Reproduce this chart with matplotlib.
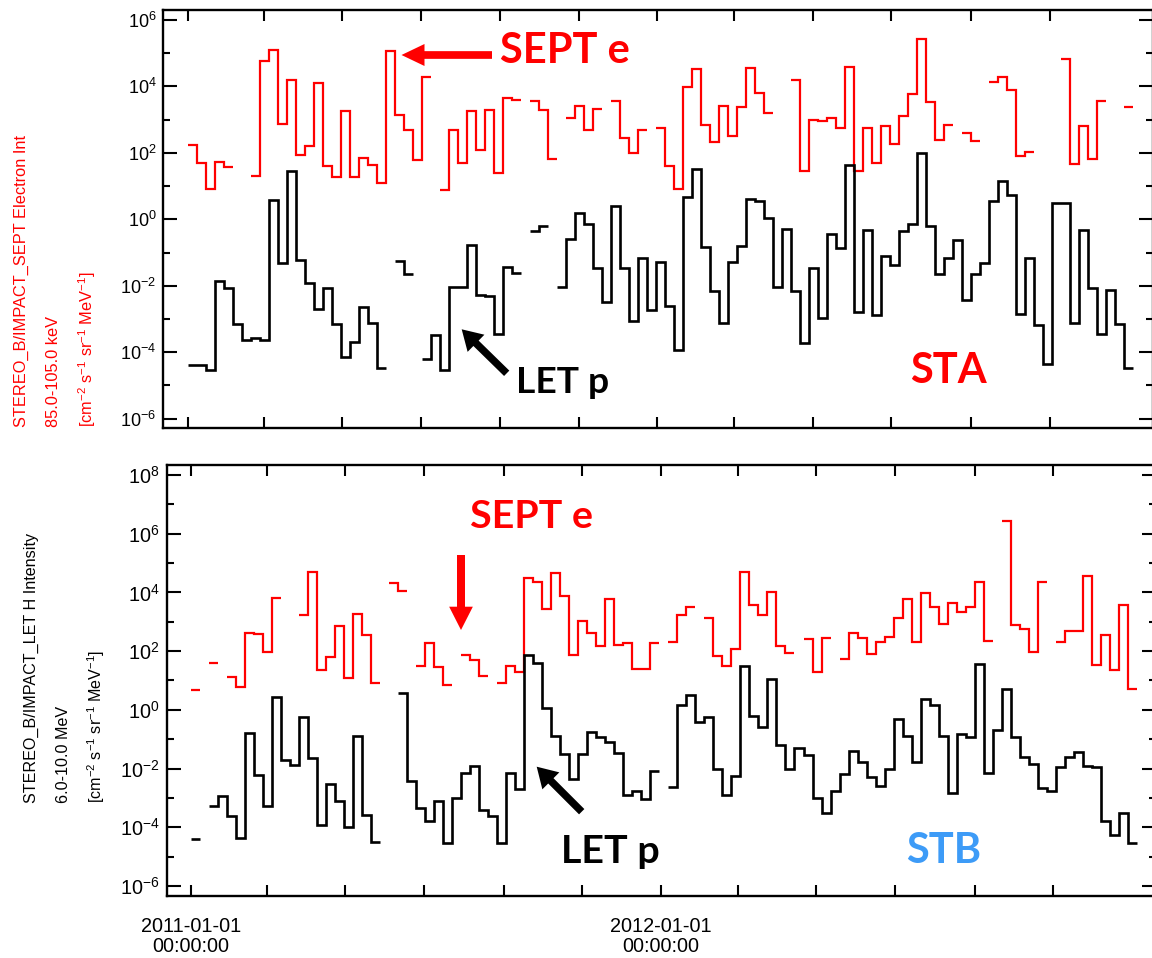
import numpy as np
import matplotlib
matplotlib.use('Agg')
import matplotlib.pyplot as plt
import matplotlib.dates as mdates
from matplotlib.ticker import NullFormatter
from matplotlib.patches import FancyArrowPatch, ArrowStyle

plt.rcParams['font.family'] = ['Liberation Sans', 'DejaVu Sans']
plt.rcParams['mathtext.fontset'] = 'custom'
plt.rcParams['mathtext.rm'] = 'Liberation Sans'
plt.rcParams['mathtext.it'] = 'Liberation Sans:italic'
plt.rcParams['mathtext.bf'] = 'Liberation Sans:bold'

# Weekly averages from 2011-01-01, stored as log10(intensity); nan = no data
start_date = '2011-01-01'
bin_days = 7

nan = np.nan
sta_sept_e = [
    2.23, 1.70, 0.92, 1.73, 1.59, nan, nan, 1.29, 4.76, 5.11,
    2.88, 4.19, 1.95, 2.20, 4.09, 1.62, 1.27, 3.25, 1.27, 1.84,
    1.63, 1.09, 5.07, 3.15, 2.68, 1.79, 4.27, nan, 0.89, 2.70,
    1.70, 3.25, 2.10, 3.30, 1.39, 3.64, 3.59, nan, 3.57, 3.28,
    1.81, nan, 3.05, 3.40, 2.70, 3.33, nan, 3.57, 2.45, 2.00,
    2.68, nan, 2.75, 1.62, 0.92, 3.97, 4.52, 2.85, 2.33, 3.40,
    2.51, 3.38, 4.54, 3.81, 3.20, nan, nan, 4.19, 1.47, 3.00,
    2.96, 3.06, 2.76, 4.57, 1.47, 2.76, 1.69, 2.81, 2.28, 3.11,
    3.77, 5.43, 3.52, 2.38, 2.85, nan, 2.61, 2.35, nan, 4.14,
    4.27, 3.89, 1.91, 2.03, nan, nan, nan, 4.82, 1.67, 2.80,
    1.82, 3.57, nan, nan, 3.38,
]
sta_let_p = [
    -4.38, -4.38, -4.54, -1.87, -2.07, -3.15, -3.62, -3.58, -3.62, 0.59,
    -1.32, 1.45, -1.21, -1.93, -2.70, -2.07, -3.15, -4.13, -3.70, -2.65,
    -3.13, -4.46, nan, -1.24, -1.63, nan, -4.19, -3.49, -4.54, -2.03,
    -2.03, -0.76, -2.27, -2.30, -3.46, -1.42, -1.60, nan, -0.34, -0.19,
    nan, -2.05, -0.60, 0.18, -0.14, -1.45, -2.48, 0.40, -1.47, -3.07,
    -1.16, -2.72, -1.27, -2.60, -3.94, 0.67, 1.52, -0.82, -2.15, -3.13,
    -1.27, -0.79, 0.60, 0.55, 0.04, -2.05, -0.29, -2.16, -3.73, -1.47,
    -2.97, -0.44, -0.86, 1.63, -2.80, -0.31, -2.87, -1.09, -1.36, -0.36,
    -0.14, 2.00, -0.19, -1.65, -1.16, -0.61, -2.42, -1.63, -1.31, 0.55,
    1.14, 0.72, -2.86, -1.16, -3.18, -4.36, 0.50, 0.50, -3.13, -0.32,
    -2.07, -3.44, -2.12, -3.15, -4.46,
]
stb_sept_e = [
    0.68, nan, 1.59, nan, 1.13, 0.77, 2.61, 2.57, 1.98, 3.80,
    nan, nan, 3.23, 4.71, 1.36, 1.81, 2.87, 1.08, 3.27, 2.55,
    0.91, nan, 4.31, 4.06, nan, 1.50, 2.27, 1.47, 0.83, nan,
    1.87, 1.70, 1.16, nan, 0.91, 1.50, 1.30, 4.48, 4.37, 3.43,
    4.67, 3.88, 1.87, 3.01, 2.61, 2.18, 3.78, 2.21, 2.29, 1.38,
    1.38, 2.29, nan, 2.32, 3.23, 3.52, nan, 3.12, 1.84, 1.50,
    2.06, 4.71, 3.57, 3.23, 4.03, 2.18, 1.93, nan, 2.40, 1.30,
    2.44, nan, 1.72, 2.61, 2.44, 1.90, 2.30, 2.47, 3.12, 3.77,
    2.32, 3.99, 3.52, 2.93, 3.63, 3.35, 3.49, 4.35, 2.35, nan,
    6.44, 2.89, 2.76, 1.98, 4.37, nan, 2.30, 2.67, 2.70, 4.56,
    1.53, 2.55, 1.36, 3.57, 0.70,
]
stb_let_p = [
    -4.41, nan, -3.27, -2.93, -3.61, -4.37, -0.80, -2.22, -3.27, 0.45,
    -1.70, -1.88, -0.25, -1.65, -3.92, -2.52, -3.09, -3.98, -0.89, -3.58,
    -4.49, nan, nan, 0.57, -2.44, -3.35, -3.78, -3.12, -4.52, -2.99,
    -2.14, -1.91, -3.41, -3.60, -4.52, -2.16, -2.70, 1.87, 1.59, 0.08,
    -0.89, -1.50, -2.35, -1.50, -0.77, -0.93, -1.08, -1.46, -2.90, -2.78,
    -3.04, -2.07, nan, -2.64, 0.17, 0.49, -0.40, -0.23, -2.02, -2.90,
    -2.25, 1.50, -0.20, -0.59, 1.05, -1.19, -2.02, -1.31, -1.53, -2.99,
    -3.50, -2.78, -2.18, -1.40, -1.76, -2.27, -2.58, -2.02, -0.32, -0.89,
    -1.78, 0.36, 0.17, -0.89, -2.82, -0.83, -0.93, 1.55, -2.16, -0.68,
    0.71, -0.93, -1.61, -1.84, -2.67, -2.75, -1.93, -1.61, -1.42, -1.91,
    -1.93, -3.80, -4.26, -3.50, -4.54,
]

tick_dates = ['2011-01-01', '2011-03-01', '2011-05-01', '2011-07-01', '2011-09-01', '2011-11-01',
              '2012-01-01', '2012-03-01', '2012-05-01', '2012-07-01', '2012-09-01', '2012-11-01']
labelled_dates = ['2011-01-01', '2012-01-01']

top_ylabel = ['STEREO_B/IMPACT_SEPT Electron Int', '85.0-105.0 keV',
              '[cm$^{-2}$ s$^{-1}$ sr$^{-1}$ MeV$^{-1}$]']
bottom_ylabel = ['STEREO_B/IMPACT_LET H Intensity', '6.0-10.0 MeV',
                 '[cm$^{-2}$ s$^{-1}$ sr$^{-1}$ MeV$^{-1}$]']

W, H = 1152, 958
RED = '#ff0000'
BLUE = '#3d9bf7'


def fig_xy(px, py):
    """ pixel position measured from the top-left corner -> figure fraction """
    return px / W, 1 - py / H


t0 = mdates.date2num(np.datetime64(start_date))
n_bins = len(sta_sept_e)
edges = t0 + bin_days * np.arange(n_bins + 1)
tick_pos = [mdates.date2num(np.datetime64(d)) for d in tick_dates]
tick_lab = [d + '\n00:00:00' if d in labelled_dates else '' for d in tick_dates]

fig = plt.figure(figsize=(W / 100, H / 100), dpi=100)
ax_a = fig.add_axes([163.3 / W, 1 - 427.7 / H, 989.7 / W, 417.7 / H])
ax_b = fig.add_axes([166.7 / W, 1 - 896.0 / H, 989.7 / W, 431.0 / H])


def style_axis(ax, ymin_exp, ymax_exp, top_exp, label_size):
    ax.set_yscale('log')
    ax.set_xlim(t0 - 18.97, t0 + 750.3)
    ax.set_ylim(10.0 ** ymin_exp, 10.0 ** ymax_exp)
    ax.set_yticks([10.0 ** k for k in range(-6, top_exp + 1, 2)])
    ax.set_yticks([10.0 ** k for k in range(-5, top_exp, 2)], minor=True)
    ax.yaxis.set_minor_formatter(NullFormatter())
    ax.set_xticks(tick_pos)
    ax.tick_params(which='both', direction='in', top=True, right=True, width=1.5)
    ax.tick_params(which='major', length=10, labelsize=label_size, pad=5)
    ax.tick_params(which='minor', length=5)
    ax.tick_params(axis='x', which='major', length=8)
    for s in ax.spines.values():
        s.set_linewidth(1.7)


style_axis(ax_a, -6.27, 6.30, 6, 13)
style_axis(ax_b, -6.34, 8.34, 8, 14.3)
ax_a.set_xticklabels([''] * len(tick_pos))
ax_b.set_xticklabels(tick_lab, fontsize=14.3, linespacing=1.05, family='Liberation Sans')
ax_b.tick_params(axis='x', pad=15)

for ax, sept, let in [(ax_a, sta_sept_e, sta_let_p), (ax_b, stb_sept_e, stb_let_p)]:
    ax.stairs(10.0 ** np.array(sept), edges, baseline=None, color=RED, lw=1.6)
    ax.stairs(10.0 ** np.array(let), edges, baseline=None, color='black', lw=1.9)

# rotated y axis titles, three lines each
for xc, line in zip([21, 53, 87], top_ylabel):
    fig.text(*fig_xy(xc, 427), line, rotation=90, ha='center', va='bottom',
             fontsize=11.8, color=RED)
for xc, line in zip([31, 63, 96], bottom_ylabel):
    fig.text(*fig_xy(xc, 803), line, rotation=90, ha='center', va='bottom',
             fontsize=11.6, color='black')


def note(x, y, s, color, size):
    fig.text(*fig_xy(x, y), s, color=color, fontsize=size, fontweight='bold',
             family='Lato', ha='left', va='baseline')


def block_arrow(tail, tip, color, head_len, head_w, tail_w):
    style = ArrowStyle('simple', head_length=head_len, head_width=head_w, tail_width=tail_w)
    arr = FancyArrowPatch(fig_xy(*tail), fig_xy(*tip), transform=fig.transFigure,
                          arrowstyle=style, mutation_scale=72 / fig.dpi,
                          facecolor=color, edgecolor='none', shrinkA=0, shrinkB=0)
    fig.add_artist(arr)


note(500, 63.3, 'SEPT e', RED, 30)
block_arrow((492, 55), (401.5, 55), RED, 23, 22, 7.7)
note(516, 393.3, 'LET p', 'black', 26.8)
block_arrow((506.7, 373.3), (461.7, 329.3), 'black', 20, 24, 7.5)
note(910, 383.3, 'STA', RED, 30)

note(470, 528.3, 'SEPT e', RED, 28.4)
block_arrow((461, 555), (461, 630), RED, 23.3, 23.7, 8)
note(561, 863.3, 'LET p', 'black', 28.4)
block_arrow((581.7, 811.7), (536.7, 766.7), 'black', 20, 24, 7.5)
note(906, 863.3, 'STB', BLUE, 30)

fig.savefig('out.png', dpi=100)
